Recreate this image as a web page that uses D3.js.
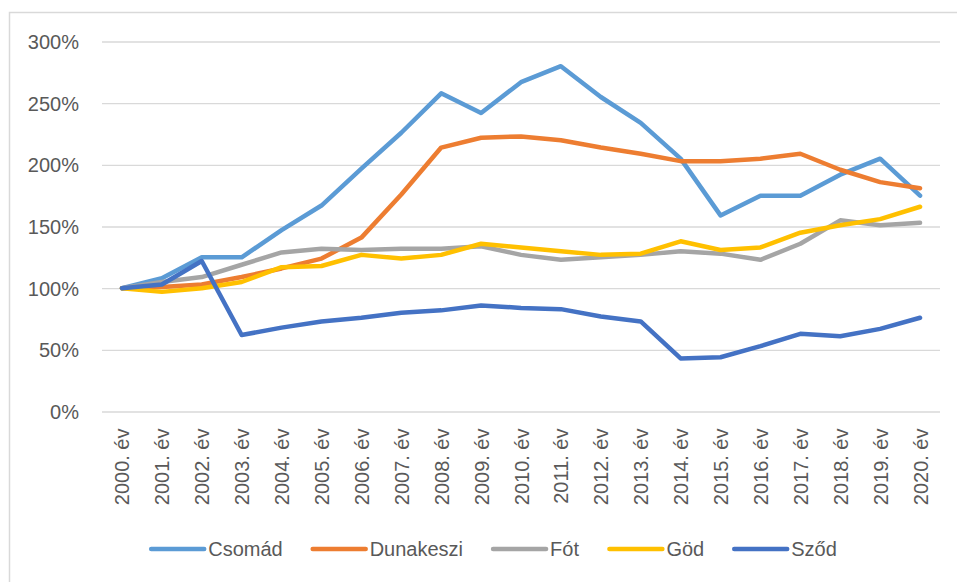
<!DOCTYPE html>
<html>
<head>
<meta charset="utf-8">
<script src="https://cdn.jsdelivr.net/npm/d3@7"></script>
<style>
  body { margin: 0; background: #fff; }
  text { font-family: "Liberation Sans", Arial, sans-serif; fill: #595959; }
</style>
</head>
<body>
<div class="chart"></div>
<script>
var svgWidth = 957;
var svgHeight = 582;

var margin = { top: 41.5, right: 17, bottom: 170.5, left: 102 };
var width = svgWidth - margin.left - margin.right;
var height = svgHeight - margin.top - margin.bottom;

// data (percent of 2000)
var years = ["2000. év", "2001. év", "2002. év", "2003. év", "2004. év", "2005. év", "2006. év",
  "2007. év", "2008. év", "2009. év", "2010. év", "2011. év", "2012. év", "2013. év", "2014. év",
  "2015. év", "2016. év", "2017. év", "2018. év", "2019. év", "2020. év"];
var yTicks = [0, 50, 100, 150, 200, 250, 300];

var csomad    = [100, 108, 125, 125, 147, 167, 197, 226, 258, 242, 267, 280, 255, 234, 205, 159, 175, 175, 192, 205, 175];
var dunakeszi = [100, 101, 103, 109, 116, 124, 141, 176, 214, 222, 223, 220, 214, 209, 203, 203, 205, 209, 196, 186, 181];
var fot       = [100, 105, 109, 119, 129, 132, 131, 132, 132, 134, 127, 123, 125, 127, 130, 128, 123, 136, 155, 151, 153];
var god       = [100, 97, 100, 105, 117, 118, 127, 124, 127, 136, 133, 130, 127, 128, 138, 131, 133, 145, 151, 156, 166];
var szod      = [100, 103, 122, 62, 68, 73, 76, 80, 82, 86, 84, 83, 77, 73, 43, 44, 53, 63, 61, 67, 76];

var names = ["Csomád", "Dunakeszi", "Fót", "Göd", "Sződ"];
var colors = ["#5b9bd5", "#ed7d31", "#a5a5a5", "#ffc000", "#4472c4"];
var series = [csomad, dunakeszi, fot, god, szod];

var root = d3.select(".chart")
  .append("svg")
  .attr("width", svgWidth)
  .attr("height", svgHeight);

// chart frame
root.append("rect")
  .attr("x", 9.5).attr("y", 12.5)
  .attr("width", 970).attr("height", 600)
  .attr("fill", "none")
  .attr("stroke", "#d9d9d9")
  .attr("stroke-width", 1.5);

var chart = root.append("g")
  .attr("transform", "translate(" + margin.left + "," + margin.top + ")");

var xScale = d3.scalePoint()
  .domain(years)
  .range([0, width])
  .padding(0.5);

var yScale = d3.scaleLinear()
  .domain([0, 300])
  .range([height, 0]);

// gridlines
var leftAxis = d3.axisLeft(yScale)
  .tickValues(yTicks)
  .tickSize(-width)
  .tickFormat(function(d) { return d + "%"; });

var yAxis = chart.append("g").call(leftAxis);
yAxis.select(".domain").remove();
yAxis.selectAll("line").attr("stroke", "#d9d9d9").attr("stroke-width", 1.3);
yAxis.selectAll("text")
  .attr("x", -23)
  .attr("dy", "0.35em")
  .style("font-size", "20px")
  .attr("fill", "#595959");

var bottomAxis = d3.axisBottom(xScale).tickSize(0);
var xAxis = chart.append("g")
  .attr("transform", "translate(0," + height + ")")
  .call(bottomAxis);
xAxis.select(".domain").remove();
xAxis.selectAll("text")
  .attr("transform", "rotate(-90)")
  .attr("x", -17)
  .attr("y", 0)
  .attr("dy", "0.35em")
  .style("text-anchor", "end")
  .style("font-size", "20px")
  .attr("fill", "#595959");

var line = d3.line()
  .x(function(d, i) { return xScale(years[i]); })
  .y(function(d) { return yScale(d); });

series.forEach(function(values, k) {
  chart.append("path")
    .datum(values)
    .attr("d", line)
    .attr("fill", "none")
    .attr("stroke", colors[k])
    .attr("stroke-width", 4.5)
    .attr("stroke-linejoin", "round")
    .attr("stroke-linecap", "round");
});

// legend
var legend = root.append("g").attr("transform", "translate(0,549)");
var items = legend.selectAll("g")
  .data(names)
  .enter().append("g");

items.append("line")
  .attr("x1", 0).attr("x2", 53)
  .attr("stroke", function(d, i) { return colors[i]; })
  .attr("stroke-width", 4.5)
  .attr("stroke-linecap", "round");

items.append("text")
  .attr("x", 57)
  .attr("dy", "0.35em")
  .style("font-size", "20px")
  .text(function(d) { return d; });

var xPos = 0;
var offsets = [];
items.each(function() {
  offsets.push(xPos);
  xPos += this.getBBox().width + 30;
});
var total = xPos - 30;
var start = 494 - total / 2;
items.attr("transform", function(d, i) { return "translate(" + (start + offsets[i]) + ",0)"; });
</script>
</body>
</html>
